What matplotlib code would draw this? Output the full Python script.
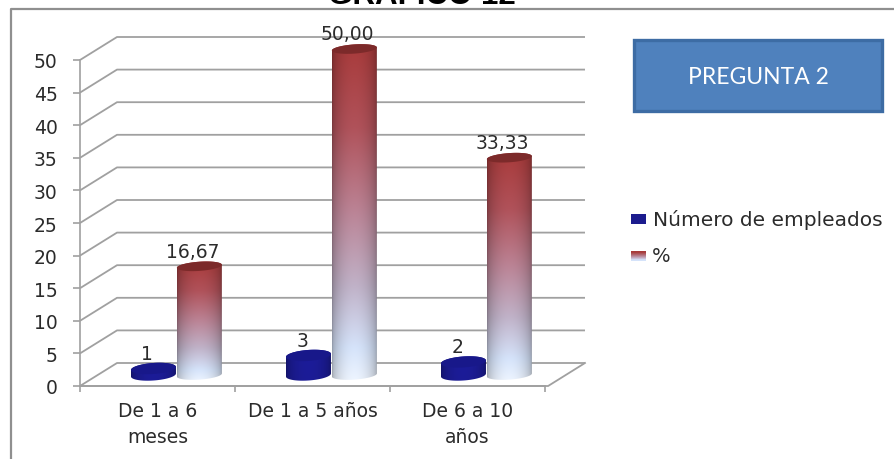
import numpy as np
import matplotlib
matplotlib.use("Agg")
import matplotlib.pyplot as plt
from matplotlib.lines import Line2D
from matplotlib.patches import Polygon, FancyBboxPatch

categories = ["De 1 a 6\nmeses", "De 1 a 5 años", "De 6 a 10\naños"]
empleados = [1, 3, 2]
porcentaje = [16.67, 50.00, 33.33]
empleados_labels = ["1", "3", "2"]
porcentaje_labels = ["16,67", "50,00", "33,33"]
yticks = [0, 5, 10, 15, 20, 25, 30, 35, 40, 45, 50]

W, H = 895, 460
GRID = "#a0a0a0"
TEXT = "#2b2b2b"

# pseudo 3D: how far the back wall sits from the front, in data units
depth_x = 37 / 155
depth_y = 23 / 6.52
base = 11 / 6.52
bar_w = 45 / 155
tilt = 1.6

fig = plt.figure(figsize=(W / 100, H / 100), dpi=100, facecolor="white")
ax = fig.add_axes([80 / W, (H - 387) / H, 465 / W, 326 / H])
ax.patch.set_alpha(0)


def ellipse_xy(cx, cy, t, ell_h):
    x = cx + bar_w / 2 * np.cos(t)
    y = cy + ell_h * np.sin(t) + tilt * (x - cx)
    return x, y


def cylinder(cx, val, stops, top_color, ell_h):
    top = base + val
    t1 = np.linspace(np.pi, 2 * np.pi, 40)
    t2 = np.linspace(0, np.pi, 40)
    xb, yb = ellipse_xy(cx, base, t1, ell_h)
    xt, yt = ellipse_xy(cx, top, t2, ell_h)
    body = Polygon(np.column_stack([np.r_[xb, xt], np.r_[yb, yt]]), closed=True,
                   facecolor="none", edgecolor="none", transform=ax.transData, clip_on=False)
    ax.add_patch(body)

    # vertical colour ramp times a horizontal shade for the round look
    pos = [s[0] for s in stops]
    cols = np.array([matplotlib.colors.to_rgb(s[1]) for s in stops])
    v = np.linspace(0, 1, 200)
    ramp = np.column_stack([np.interp(v, pos, cols[:, i]) for i in range(3)])
    u = np.linspace(0, 1, 60)
    shade = 0.68 + 0.32 * np.sin(np.pi * u) ** 0.5
    img = ramp[:, None, :] * shade[None, :, None]
    im = ax.imshow(img, extent=[cx - bar_w / 2, cx + bar_w / 2, base - 1, top + 1],
                   origin="upper", aspect="auto", zorder=3, interpolation="bilinear")
    im.set_clip_box(fig.bbox)
    im.set_clip_path(body)

    t = np.linspace(0, 2 * np.pi, 80)
    xe, ye = ellipse_xy(cx, top, t, ell_h)
    ax.add_patch(Polygon(np.column_stack([xe, ye]), closed=True, facecolor=top_color,
                         edgecolor="none", zorder=3.1, clip_on=False))


red_stops = [(0, "#a83a3a"), (0.25, "#b0525a"), (0.5, "#bb8496"), (0.72, "#c0b2c8"),
             (0.9, "#d5e3fa"), (1, "#eef5ff")]
blue_stops = [(0, "#1c1c9a"), (1, "#1c1c96")]

# gridlines, wall and floor
for v in yticks:
    ax.plot([0, depth_x, 3.258], [v, v + depth_y, v + depth_y], color=GRID, lw=1.3,
            clip_on=False, zorder=1, solid_capstyle="butt")
ax.plot([0, 3.02, 3.258], [0, 0, depth_y], color=GRID, lw=1.3, clip_on=False, zorder=1)

for i in range(len(categories)):
    cylinder(i + 0.5 - 0.026, empleados[i], blue_stops, "#18188a", 5.5 / 6.52)
    cylinder(i + 0.5 + 0.27, porcentaje[i], red_stops, "#7c2a2a", 4.6 / 6.52)
    ax.annotate(empleados_labels[i], (i + 0.5 - 0.026, base + empleados[i]), xytext=(-4.5, 11),
                textcoords="offset points", ha="center", va="center", fontsize=13.5, color=TEXT, zorder=4,
                annotation_clip=False)
    ax.annotate(porcentaje_labels[i], (i + 0.5 + 0.27, base + porcentaje[i]), xytext=(-5, 11),
                textcoords="offset points", ha="center", va="center", fontsize=13.5, color=TEXT, zorder=4,
                annotation_clip=False)

ax.set_xlim(0, 3)
ax.set_ylim(0, 50)
ax.set_yticks(yticks)
ax.set_xticks([0, 1, 2, 3])
ax.set_xticklabels([])
ax.set_xticks([0.5, 1.5, 2.5], minor=True)
ax.set_xticklabels(categories, minor=True, fontsize=13.5, color=TEXT, linespacing=1.45)
ax.tick_params(axis="x", which="minor", length=0, pad=11)
ax.tick_params(axis="x", which="major", length=4, width=1.2, color=GRID)
ax.tick_params(axis="y", length=5, width=1.2, color=GRID, labelsize=13.5, labelcolor=TEXT, pad=11)
for s in ["top", "right"]:
    ax.spines[s].set_visible(False)
for s in ["left", "bottom"]:
    ax.spines[s].set_color(GRID)
    ax.spines[s].set_linewidth(1.2)

# outer chart border, runs off the image at right and bottom
fig.add_artist(Line2D([11 / W, 11 / W, 1], [0, 1 - 10 / H, 1 - 10 / H], color="#8f8f8f", lw=1.6))

fig.text(422 / W, 1 - 4 / H, "GRAFICO 12", family="Liberation Sans", weight="bold",
         fontsize=22.5, ha="center", va="baseline", color="black")

# PREGUNTA 2 box
fig.add_artist(FancyBboxPatch((634.5 / W, 1 - 112 / H), 248 / W, 71 / H, boxstyle="square,pad=0",
                              transform=fig.transFigure, facecolor="#4f81bd", edgecolor="#3d6ca4", lw=2.4))
fig.text(758 / W, 1 - 77 / H, "PREGUNTA 2", family="Lato", fontsize=16.5, color="white",
         ha="center", va="center")

# legend
ax_a = fig.add_axes([631 / W, 1 - 225 / H, 15 / W, 10 / H])
ax_a.imshow([[matplotlib.colors.to_rgb("#1c1c8e")]], aspect="auto")
ax_a.axis("off")
ax_b = fig.add_axes([631 / W, 1 - 262 / H, 15 / W, 10 / H])
ramp = np.array([matplotlib.colors.to_rgb(c) for c in ["#a83a3a", "#b06a75", "#c0a0b5", "#d5e3fa"]])
ax_b.imshow(ramp[:, None, :], aspect="auto", interpolation="bilinear")
ax_b.axis("off")
fig.text(653 / W, 1 - 220 / H, "Número de empleados", fontsize=14.5, color=TEXT, va="center")
fig.text(652 / W, 1 - 256 / H, "%", fontsize=14, color=TEXT, va="center")

fig.savefig("out.png", dpi=100, facecolor="white")
